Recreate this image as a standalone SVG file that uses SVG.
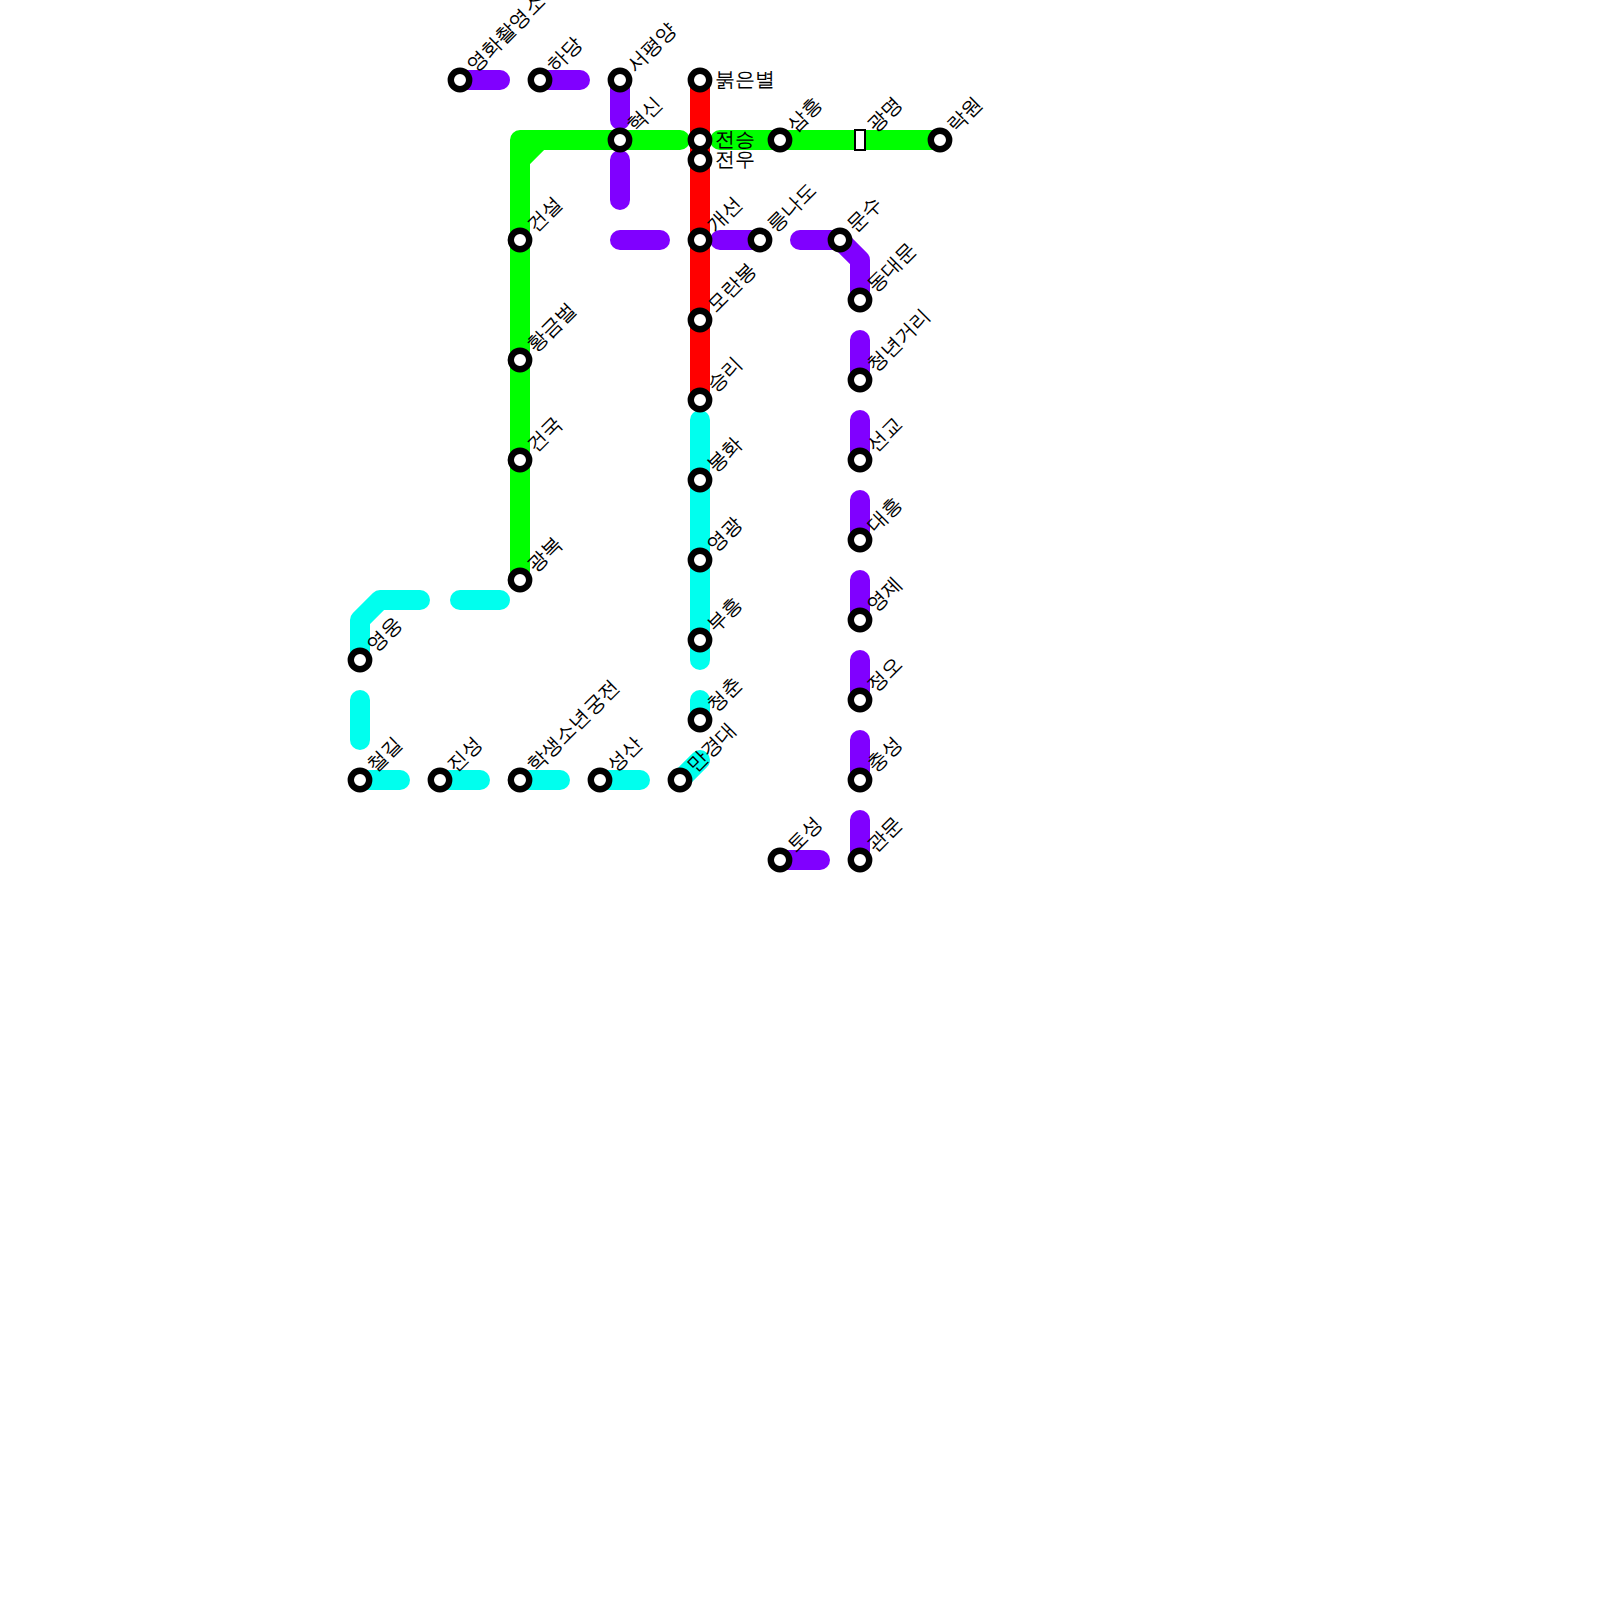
<svg xmlns="http://www.w3.org/2000/svg" width="1600" height="1600" viewBox="0 0 1600 1600">
<style>
.l{fill:none;stroke-width:20;stroke-linecap:round;stroke-linejoin:round}
.p{stroke:#8000ff}.g{stroke:#00ff00}.r{stroke:#ff0000}.c{stroke:#00ffee}
.s{fill:#fff;stroke:#000;stroke-width:6.4}
.x{fill:#fff;stroke:#000;stroke-width:2}
text{font-family:"DejaVu Sans",sans-serif;font-size:20px;fill:#000;opacity:.999}
</style>
<g id="connectors">
<path class="l r" d="M700 80V400"/>
<path class="l g" d="M520 580V160L540 140H680"/>
<path class="l g" d="M520 160V140H540"/>
<path class="l g" d="M720 140H940"/>
<path class="l p" d="M460 80H500M540 80H580M620 80V120M620 160V200M620 240H660M720 240H760"/>
<path class="l p" d="M800 240H840L860 260V300"/>
<path class="l p" d="M860 340V380M860 420V460M860 500V540M860 580V620M860 660V700M860 740V780M860 820V860M780 860H820"/>
<path class="l c" d="M360 660V620L380 600H420M460 600H500M360 700V740M360 780H400M440 780H480M520 780H560M600 780H640"/>
<path class="l c" d="M680 780L700 760M700 720V700M700 660V420"/>
</g>
<g id="n1"><circle class="s" cx="460" cy="80" r="9.2"/><text transform="translate(470 70) rotate(-45)" x="1.4" y="5.6">영화촬영소</text></g>
<g id="n2"><circle class="s" cx="540" cy="80" r="9.2"/><text transform="translate(550 70) rotate(-45)" x="1.4" y="5.6">하당</text></g>
<g id="n3"><circle class="s" cx="620" cy="80" r="9.2"/><text transform="translate(630 70) rotate(-45)" x="1.4" y="5.6">서평양</text></g>
<g id="n4"><circle class="s" cx="620" cy="140" r="9.2"/><text transform="translate(630 130) rotate(-45)" x="1.4" y="5.6">혁신</text></g>
<g id="n5"><circle class="s" cx="700" cy="80" r="9.2"/><text x="715" y="86">붉은별</text></g>
<g id="n6"><circle class="s" cx="700" cy="140" r="9.2"/><text x="715" y="146">전승</text></g>
<g id="n7"><circle class="s" cx="700" cy="160" r="9.2"/><text x="715" y="166">전우</text></g>
<g id="n8"><circle class="s" cx="700" cy="240" r="9.2"/><text transform="translate(710 230) rotate(-45)" x="1.4" y="5.6">개선</text></g>
<g id="n9"><circle class="s" cx="700" cy="320" r="9.2"/><text transform="translate(710 310) rotate(-45)" x="1.4" y="5.6">모란봉</text></g>
<g id="n10"><circle class="s" cx="700" cy="400" r="9.2"/><text transform="translate(710 390) rotate(-45)" x="1.4" y="5.6">승리</text></g>
<g id="n11"><circle class="s" cx="700" cy="480" r="9.2"/><text transform="translate(710 470) rotate(-45)" x="1.4" y="5.6">봉화</text></g>
<g id="n12"><circle class="s" cx="700" cy="560" r="9.2"/><text transform="translate(710 550) rotate(-45)" x="1.4" y="5.6">영광</text></g>
<g id="n13"><circle class="s" cx="700" cy="640" r="9.2"/><text transform="translate(710 630) rotate(-45)" x="1.4" y="5.6">부흥</text></g>
<g id="n14"><circle class="s" cx="700" cy="720" r="9.2"/><text transform="translate(710 710) rotate(-45)" x="1.4" y="5.6">청춘</text></g>
<g id="n15"><circle class="s" cx="680" cy="780" r="9.2"/><text transform="translate(690 770) rotate(-45)" x="1.4" y="5.6">만경대</text></g>
<g id="n16"><circle class="s" cx="600" cy="780" r="9.2"/><text transform="translate(610 770) rotate(-45)" x="1.4" y="5.6">성산</text></g>
<g id="n17"><circle class="s" cx="520" cy="780" r="9.2"/><text transform="translate(530 770) rotate(-45)" x="1.4" y="5.6">학생소년궁전</text></g>
<g id="n18"><circle class="s" cx="440" cy="780" r="9.2"/><text transform="translate(450 770) rotate(-45)" x="1.4" y="5.6">진성</text></g>
<g id="n19"><circle class="s" cx="360" cy="780" r="9.2"/><text transform="translate(370 770) rotate(-45)" x="1.4" y="5.6">철길</text></g>
<g id="n20"><circle class="s" cx="360" cy="660" r="9.2"/><text transform="translate(370 650) rotate(-45)" x="1.4" y="5.6">영웅</text></g>
<g id="n21"><circle class="s" cx="520" cy="580" r="9.2"/><text transform="translate(530 570) rotate(-45)" x="1.4" y="5.6">광복</text></g>
<g id="n22"><circle class="s" cx="520" cy="460" r="9.2"/><text transform="translate(530 450) rotate(-45)" x="1.4" y="5.6">건국</text></g>
<g id="n23"><circle class="s" cx="520" cy="360" r="9.2"/><text transform="translate(530 350) rotate(-45)" x="1.4" y="5.6">황금벌</text></g>
<g id="n24"><circle class="s" cx="520" cy="240" r="9.2"/><text transform="translate(530 230) rotate(-45)" x="1.4" y="5.6">건설</text></g>
<g id="n25"><circle class="s" cx="780" cy="140" r="9.2"/><text transform="translate(790 130) rotate(-45)" x="1.4" y="5.6">삼흥</text></g>
<g id="n26"><rect class="x" x="855" y="130" width="10" height="20"/><text transform="translate(870 130) rotate(-45)" x="1.4" y="5.6">광명</text></g>
<g id="n27"><circle class="s" cx="940" cy="140" r="9.2"/><text transform="translate(950 130) rotate(-45)" x="1.4" y="5.6">락원</text></g>
<g id="n28"><circle class="s" cx="760" cy="240" r="9.2"/><text transform="translate(770 230) rotate(-45)" x="1.4" y="5.6">릉나도</text></g>
<g id="n29"><circle class="s" cx="840" cy="240" r="9.2"/><text transform="translate(850 230) rotate(-45)" x="1.4" y="5.6">문수</text></g>
<g id="n30"><circle class="s" cx="860" cy="300" r="9.2"/><text transform="translate(870 290) rotate(-45)" x="1.4" y="5.6">동대문</text></g>
<g id="n31"><circle class="s" cx="860" cy="380" r="9.2"/><text transform="translate(870 370) rotate(-45)" x="1.4" y="5.6">청년거리</text></g>
<g id="n32"><circle class="s" cx="860" cy="460" r="9.2"/><text transform="translate(870 450) rotate(-45)" x="1.4" y="5.6">선교</text></g>
<g id="n33"><circle class="s" cx="860" cy="540" r="9.2"/><text transform="translate(870 530) rotate(-45)" x="1.4" y="5.6">대흥</text></g>
<g id="n34"><circle class="s" cx="860" cy="620" r="9.2"/><text transform="translate(870 610) rotate(-45)" x="1.4" y="5.6">영제</text></g>
<g id="n35"><circle class="s" cx="860" cy="700" r="9.2"/><text transform="translate(870 690) rotate(-45)" x="1.4" y="5.6">정오</text></g>
<g id="n36"><circle class="s" cx="860" cy="780" r="9.2"/><text transform="translate(870 770) rotate(-45)" x="1.4" y="5.6">충성</text></g>
<g id="n37"><circle class="s" cx="860" cy="860" r="9.2"/><text transform="translate(870 850) rotate(-45)" x="1.4" y="5.6">관문</text></g>
<g id="n38"><circle class="s" cx="780" cy="860" r="9.2"/><text transform="translate(790 850) rotate(-45)" x="1.4" y="5.6">토성</text></g>
</svg>
